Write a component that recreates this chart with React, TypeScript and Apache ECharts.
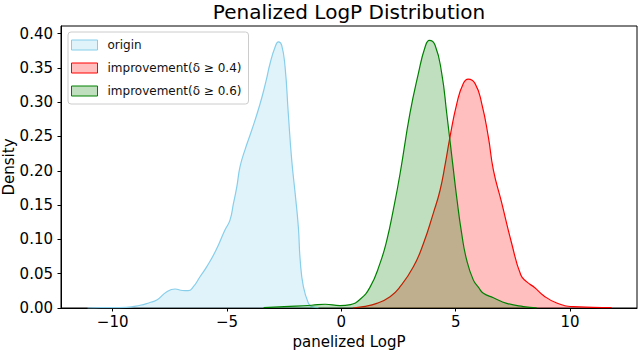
import React, { useEffect, useRef } from "react";
import * as echarts from "echarts";

const TITLE = "Penalized LogP Distribution";
const X_LABEL = "panelized LogP";
const Y_LABEL = "Density";
const SERIES_NAMES = ["origin", "improvement(δ ≥ 0.4)", "improvement(δ ≥ 0.6)"];
const X_TICKS = [-10, -5, 0, 5, 10];
const Y_TICKS = [0, 0.05, 0.1, 0.15, 0.2, 0.25, 0.3, 0.35, 0.4];

const ORIGIN_X = [-11.1, -10.5, -9.4, -8.8, -8.4, -8.07, -7.63, -7.27, -6.95, -6.7, -6.47, -6.18, -5.89, -5.5, -5.09, -4.87, -4.72, -4.57, -4.43, -4.2, -3.92, -3.55, -3.3, -3.12, -2.9, -2.75, -2.61, -2.46, -2.32, -2.17, -2.02, -1.88, -1.8, -1.66, -1.44, -1.29, -1.0];
const ORIGIN_Y = [0.0, 0.0005, 0.001, 0.004, 0.0077, 0.0116, 0.0238, 0.0277, 0.0255, 0.0252, 0.031, 0.0456, 0.06, 0.083, 0.1136, 0.128, 0.152, 0.177, 0.206, 0.232, 0.259, 0.298, 0.33, 0.356, 0.38, 0.388, 0.383, 0.351, 0.2835, 0.2155, 0.167, 0.118, 0.07, 0.031, 0.0068, 0.002, 0.0005];

const RED_X = [0.5, 0.96, 1.55, 2.13, 2.57, 3.15, 3.59, 4.02, 4.32, 4.55, 4.75, 5.05, 5.33, 5.55, 5.85, 6.14, 6.43, 6.65, 7.0, 7.45, 7.85, 8.11, 8.45, 8.85, 9.42, 10.14, 11.0, 11.82];
const RED_Y = [0.0, 0.002, 0.0068, 0.0165, 0.031, 0.06, 0.094, 0.138, 0.172, 0.211, 0.249, 0.298, 0.327, 0.3335, 0.327, 0.298, 0.249, 0.201, 0.155, 0.094, 0.048, 0.038, 0.03, 0.018, 0.0072, 0.002, 0.001, 0.0005];

const GREEN_X = [-3.4, -2.5, -1.3, -0.71, -0.06, 0.4, 0.8, 1.25, 1.69, 1.99, 2.27, 2.57, 3.0, 3.37, 3.66, 3.85, 4.1, 4.39, 4.61, 4.87, 5.05, 5.26, 5.48, 5.77, 6.0, 6.21, 6.65, 7.23, 7.96, 8.54];
const GREEN_Y = [0.0005, 0.002, 0.004, 0.0055, 0.0035, 0.005, 0.012, 0.03, 0.065, 0.099, 0.1427, 0.196, 0.2835, 0.342, 0.38, 0.39, 0.383, 0.342, 0.2835, 0.21, 0.16, 0.109, 0.07, 0.041, 0.03, 0.0214, 0.015, 0.0068, 0.002, 0.0003];

const LINE_COLORS = ["#87ceeb", "#ff0000", "#008000"];
const FILL_COLORS = ["#e1f3fa", "#ffbfbf", "#bfdfbf"];

const zip = (xs: number[], ys: number[]) => xs.map((x, i) => [x, ys[i]]);

const FONT = "DejaVu Sans";

export default function App() {
  const ref = useRef<HTMLDivElement>(null);
  useEffect(() => {
    if (!ref.current) return;
    const chart = echarts.init(ref.current, null, { renderer: "svg" });
    const datasets = [zip(ORIGIN_X, ORIGIN_Y), zip(RED_X, RED_Y), zip(GREEN_X, GREEN_Y)];
    chart.setOption({
      animation: false,
      backgroundColor: "#ffffff",
      title: {
        text: TITLE,
        left: 349,
        top: 2,
        padding: 0,
        textAlign: "center",
        textStyle: { fontFamily: FONT, fontSize: 20, lineHeight: 20, fontWeight: "normal", color: "#000" },
      },
      legend: {
        orient: "vertical",
        left: 68,
        top: 32,
        padding: [6, 7, 6, 3],
        itemWidth: 26,
        itemHeight: 10,
        itemGap: 9,
        backgroundColor: "rgba(255,255,255,0.85)",
        borderColor: "#cccccc",
        borderWidth: 1,
        borderRadius: 3,
        textStyle: { fontFamily: FONT, fontSize: 12, color: "#111", lineHeight: 14, padding: [0, 0, 0, 5] },
        data: SERIES_NAMES.map((n, i) => ({
          name: n,
          icon: "rect",
          itemStyle: { color: FILL_COLORS[i], borderColor: LINE_COLORS[i], borderWidth: 1, opacity: 1 },
        })),
      },
      grid: {
        left: 61,
        right: 3,
        top: 26,
        bottom: 43,
        containLabel: false,
        outerBoundsMode: "none",
        show: true,
        borderColor: "#000",
        borderWidth: 1,
        backgroundColor: "transparent",
      },
      xAxis: {
        type: "value",
        min: -12.26,
        max: 12.93,
        name: X_LABEL,
        nameLocation: "middle",
        nameGap: 26,
        nameMoveOverlap: false,
        nameTextStyle: { fontFamily: FONT, fontSize: 15, color: "#000" },
        axisLine: { show: true, onZero: false, lineStyle: { color: "#000", width: 1 } },
        axisTick: { show: true, length: 3.5, customValues: X_TICKS, lineStyle: { color: "#000" } },
        axisLabel: {
          customValues: X_TICKS,
          margin: 6,
          fontFamily: FONT,
          fontSize: 15,
          color: "#000",
          formatter: (v: number) => (v < 0 ? "\u2212" + Math.abs(v) : String(v)),
        },
        splitLine: { show: false },
      },
      yAxis: {
        type: "value",
        min: 0,
        max: 0.411,
        name: Y_LABEL,
        nameLocation: "middle",
        nameGap: 45,
        nameMoveOverlap: false,
        nameTextStyle: { fontFamily: FONT, fontSize: 15, color: "#000" },
        axisLine: { show: true, onZero: false, lineStyle: { color: "#000", width: 1 } },
        axisTick: { show: true, length: 3.5, customValues: Y_TICKS, lineStyle: { color: "#000" } },
        axisLabel: {
          customValues: Y_TICKS,
          margin: 8,
          fontFamily: FONT,
          fontSize: 15,
          color: "#000",
          formatter: (v: number) => v.toFixed(2),
        },
        splitLine: { show: false },
      },
      series: SERIES_NAMES.map((n, i) => ({
        name: n,
        type: "line",
        data: datasets[i],
        showSymbol: false,
        symbol: "none",
        smooth: 0.5,
        lineStyle: { color: LINE_COLORS[i], width: 1.2 },
        itemStyle: { color: LINE_COLORS[i] },
        areaStyle: { color: LINE_COLORS[i], opacity: 0.25 },
        z: 2 + i,
      })),
    });
    return () => chart.dispose();
  }, []);
  return <div ref={ref} style={{ position: "fixed", left: 0, top: 0, width: 640, height: 351 }} />;
}
